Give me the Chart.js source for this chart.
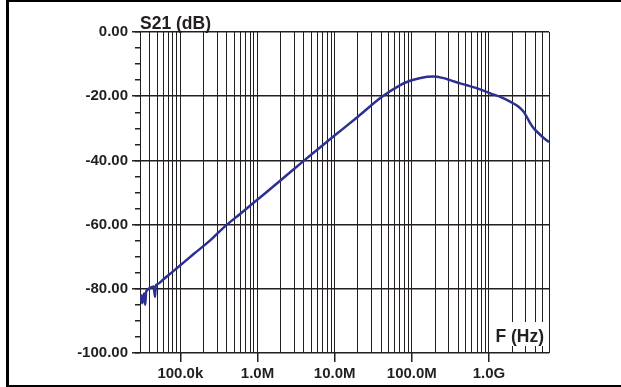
<!DOCTYPE html>
<html>
<head>
<meta charset="utf-8">
<script src="https://cdn.jsdelivr.net/npm/chart.js@4.4.1/dist/chart.umd.min.js"></script>
<style>
    html, body { margin: 0; padding: 0; background: #fff; }
    #frame {
        position: absolute; left: 6px; top: 0; width: 615px; height: 387px;
        box-sizing: border-box;
        border-left: 3px solid #000; border-top: 2px solid #000; border-bottom: 2px solid #000;
    }
    #s21 { position: absolute; left: 0; top: 0; }
</style>
</head>
<body>
<div id="frame"></div>
<canvas id="s21" width="621" height="387"></canvas>
<script>
// S21 magnitude
const freqHz = [30e3, 31e3, 32e3, 33e3, 34e3, 35e3, 36e3, 38e3, 40e3, 45e3, 47e3, 48e3, 50e3,
    60e3, 70e3, 90e3, 150e3, 250e3, 361e3, 600e3, 1e6, 2e6, 3.9e6, 6e6, 9.7e6, 20e6, 41e6,
    70e6, 95e6, 130e6, 190e6, 250e6, 314e6, 424e6, 518e6, 750e6, 1.04e9, 1.5e9, 1.88e9,
    2.4e9, 2.8e9, 3.1e9, 3.42e9, 3.8e9, 4.17e9, 5e9, 6e9];
const s21dB = [-84, -82, -84.5, -82.5, -81.5, -85, -81, -80.2, -79.8, -79.3, -82.5, -79, -78.6,
    -77.1, -75.8, -73.6, -69.1, -64.7, -61.0, -56.6, -52.2, -46.2, -40.3, -36.6, -32.5, -26.4, -20.2,
    -16.6, -15.2, -14.3, -13.9, -14.3, -15.0, -16.0, -16.6, -17.8, -19.1, -20.5, -21.7,
    -23.2, -24.8, -26.5, -28.4, -30, -31.0, -32.8, -34.3];

// axes
const freqMin = 30e3;
const freqMax = 6e9;
const decadeFreqs = [1e5, 1e6, 1e7, 1e8, 1e9];
const decadeLabels = ['100.0k', '1.0M', '10.0M', '100.0M', '1.0G'];
const majorDb = [0, -20, -40, -60, -80, -100];
const minorDb = [0, -5, -10, -15, -20, -25, -30, -35, -40, -45, -50, -55, -60, -65, -70, -75, -80, -85, -90, -95, -100];

// grid lines at 1..9 x each decade
const gridFreqs = [];
for (let d = 1e4; d <= 1e9; d *= 10) {
    for (let m = 1; m <= 9; m++) {
        const f = m * d;
        if (f >= freqMin && f <= freqMax) gridFreqs.push(f);
    }
}

const ink = '#231f20';
const tickFont = { family: '"Liberation Sans", Arial, sans-serif', size: 15, weight: 'bold' };

const pts = freqHz.map((f, i) => ({ x: f, y: s21dB[i] }));

const axisTitles = {
    id: 'axisTitles',
    afterDraw(chart) {
        const { ctx, chartArea: a } = chart;
        ctx.save();
        ctx.font = 'bold 17.5px "Liberation Sans", Arial, sans-serif';
        ctx.textBaseline = 'alphabetic';
        ctx.fillStyle = ink;
        ctx.textAlign = 'left';
        ctx.fillText('S21 (dB)', a.left, a.top - 3);

        const label = 'F (Hz)';
        const w = ctx.measureText(label).width;
        ctx.fillStyle = '#fff';
        ctx.fillRect(a.right - w - 9, a.bottom - 31, w + 7.5, 24);
        ctx.fillStyle = ink;
        ctx.textAlign = 'right';
        ctx.fillText(label, a.right - 5, a.bottom - 11);
        ctx.restore();
    }
};

new Chart(document.getElementById('s21').getContext('2d'), {
    type: 'line',
    data: {
        datasets: [{
            data: pts,
            xAxisID: 'x',
            yAxisID: 'y',
            borderColor: '#2b3092',
            borderWidth: 2.5,
            pointRadius: 0,
            tension: 0,
            cubicInterpolationMode: 'monotone',
            fill: false
        }]
    },
    options: {
        responsive: false,
        animation: false,
        devicePixelRatio: 1,
        layout: { padding: { left: 0, right: 72, top: 32, bottom: 0 } },
        plugins: { legend: { display: false }, tooltip: { enabled: false } },
        scales: {
            x: {
                type: 'logarithmic', min: freqMin, max: freqMax, position: 'bottom', weight: 0,
                afterBuildTicks: s => { s.ticks = gridFreqs.map(v => ({ value: v })); },
                afterFit: s => { s.height = 0; },
                ticks: { display: false },
                grid: { color: ink, lineWidth: 1, drawTicks: false },
                border: { display: false }
            },
            xl: {
                type: 'logarithmic', min: freqMin, max: freqMax, position: 'bottom', weight: 1,
                afterBuildTicks: s => { s.ticks = decadeFreqs.map(v => ({ value: v })); },
                afterFit: s => { s.height = 34; },
                ticks: {
                    callback: (v, i) => decadeLabels[i],
                    font: tickFont, color: ink, maxRotation: 0, autoSkip: false, padding: 3
                },
                grid: { drawOnChartArea: false, tickLength: 9, color: ink, lineWidth: 1.5 },
                border: { display: false }
            },
            y: {
                min: -100, max: 0, position: 'left', weight: 0,
                afterBuildTicks: s => { s.ticks = minorDb.map(v => ({ value: v })); },
                afterFit: s => { s.width = 0; },
                ticks: { display: false },
                grid: {
                    color: c => (c.tick && c.tick.value % 20 === 0 ? ink : 'rgba(0,0,0,0)'),
                    tickColor: ink, lineWidth: 1.5, tickLength: 5
                },
                border: { display: false }
            },
            yl: {
                min: -100, max: 0, position: 'left', weight: 1,
                afterBuildTicks: s => { s.ticks = majorDb.map(v => ({ value: v })); },
                afterFit: s => { s.width = 140; },
                ticks: { callback: v => v.toFixed(2), font: tickFont, color: ink, padding: 4 },
                grid: { drawOnChartArea: false, tickLength: 8, color: ink, lineWidth: 1.5 },
                border: { display: false }
            }
        }
    },
    plugins: [axisTitles]
});
</script>
</body>
</html>
